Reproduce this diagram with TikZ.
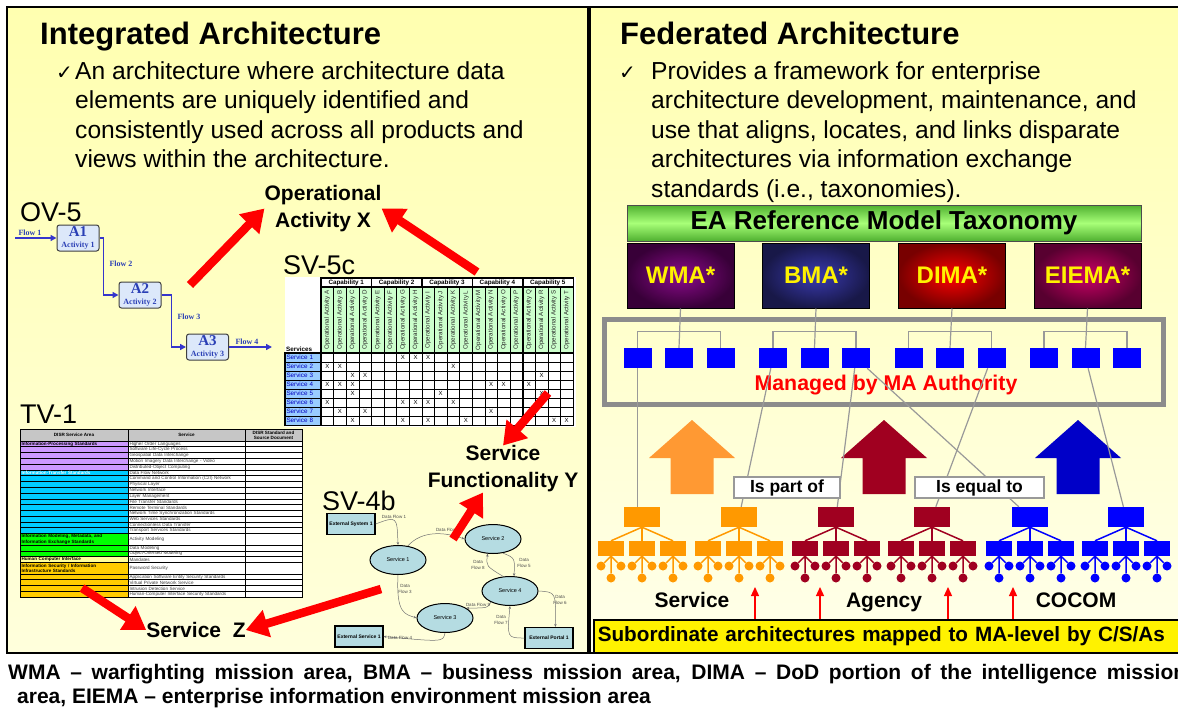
\documentclass[tikz,border=0pt]{standalone}
\usepackage{fontspec}
\setmainfont{Liberation Sans}
\newfontfamily\ovfont{Liberation Serif}
\newfontfamily\symfont{DejaVu Sans}
\usepackage{tikz}
\usetikzlibrary{arrows.meta,shapes,calc}
\usepackage{xcolor}

\definecolor{panelTop}{HTML}{FFFFB0}
\definecolor{panelBot}{HTML}{FFFFDC}
\definecolor{ovBlue}{HTML}{2A3FB5}
\definecolor{ovLine}{HTML}{3535CC}
\definecolor{ovFill}{HTML}{DCE8FA}
\definecolor{actGreen}{HTML}{CCFFCC}
\definecolor{svcBlue}{HTML}{99CCFF}
\definecolor{svTeal}{HTML}{B5DCE2}
\definecolor{tvPurple}{HTML}{CC99FF}
\definecolor{tvCyan}{HTML}{00CCFF}
\definecolor{tvGreen}{HTML}{00FF00}
\definecolor{tvPale}{HTML}{FFFF99}
\definecolor{tvOrange}{HTML}{FFCC00}
\definecolor{taxDark}{HTML}{4FB030}
\definecolor{taxLight}{HTML}{A8FF78}
\definecolor{wmaIn}{HTML}{8C0A8C}
\definecolor{wmaOut}{HTML}{380038}
\definecolor{bmaIn}{HTML}{3A3AB0}
\definecolor{bmaOut}{HTML}{181848}
\definecolor{dimaIn}{HTML}{FF0000}
\definecolor{dimaOut}{HTML}{780000}
\definecolor{eiemaIn}{HTML}{CC0066}
\definecolor{eiemaOut}{HTML}{580030}
\definecolor{maOrange}{HTML}{FF9933}
\definecolor{maCrimson}{HTML}{A00020}
\definecolor{maBlue}{HTML}{0000C8}
\definecolor{trOrange}{HTML}{FF9900}
\definecolor{trBlue}{HTML}{0000FF}
\definecolor{linkGray}{HTML}{999999}

\newcommand{\setfs}[1]{\fontsize{#1}{#1}\selectfont}

\begin{document}
\begin{tikzpicture}[x=1pt, y=-1pt,
    headtxt/.style={anchor=base west, inner sep=0, font=\bfseries\setfs{31}},
    bodytxt/.style={anchor=base west, inner sep=0, font=\setfs{24.6}},
    checktxt/.style={anchor=base west, inner sep=0, font=\symfont\setfs{20}},
    viewtxt/.style={anchor=base west, inner sep=0, font=\setfs{27}},
    bigtxt/.style={inner sep=0, align=center, font=\bfseries\fontsize{21}{27}\selectfont},
    bigred/.style={draw=red, line width=8.5, -{Triangle[length=22pt,width=27pt]}},
    % OV-5
    actbox/.style={draw=black!75, fill=ovFill, rounded corners=2.5, line width=1, minimum width=42, minimum height=26, inner sep=0, align=center, text=ovBlue, font=\ovfont\bfseries},
    flowline/.style={draw=ovLine, line width=1.4, -{Triangle[length=6pt,width=6pt]}},
    flowlab/.style={inner sep=0, text=ovBlue, font=\ovfont\bfseries\setfs{8}},
    % SV-5c
    capcell/.style={draw, line width=0.8, fill=white, minimum height=9, inner sep=0, font=\bfseries\setfs{6.3}},
    actcell/.style={draw, line width=0.5, fill=actGreen, minimum width=12.6, minimum height=66, inner sep=0, text=black!85, font=\setfs{6.2}},
    svclab/.style={draw, line width=0.6, fill=svcBlue, minimum width=36, minimum height=9, inner sep=0, text width=33, align=left, text=blue!75!black, font=\setfs{6.3}},
    gridcell/.style={draw, line width=0.5, fill=white, minimum width=12.6, minimum height=9, inner sep=0},
    xmark/.style={inner sep=0, font=\setfs{6}},
    % TV-1
    tvhead/.style={draw, line width=0.6, fill=gray!45, minimum height=12, inner sep=0, align=center, font=\bfseries\fontsize{4.6}{5}\selectfont},
    tvcell/.style={draw, line width=0.6, inner xsep=1, inner ysep=0, align=left, font=\fontsize{4.6}{5.2}\selectfont},
    % SV-4b
    svell/.style={ellipse, draw, line width=1, fill=svTeal, minimum width=56, minimum height=29, inner sep=0, font=\setfs{5.5}},
    extbox/.style={draw, line width=1.1, fill=svTeal, minimum width=48, minimum height=21, inner sep=0, font=\bfseries\setfs{5}},
    dflow/.style={draw=black!55, line width=0.5, -{Stealth[length=3pt,width=2.5pt]}},
    dflab/.style={inner sep=0, align=center, text=black!70, font=\fontsize{4.5}{5.5}\selectfont},
    % federated side
    taxbar/.style={draw=black!70, line width=1, top color=taxDark, bottom color=taxDark, middle color=taxLight, minimum width=514, minimum height=36, inner sep=0, font=\bfseries\setfs{26}},
    mabox/.style={draw=black, line width=1, minimum width=107, minimum height=65, inner sep=0, text=yellow, font=\bfseries\setfs{24}},
    masq/.style={fill=trBlue, minimum width=28, minimum height=20, inner sep=0},
    graylink/.style={draw=linkGray, line width=1.2},
    relbox/.style={draw=gray!80, line width=1.5, fill=white, minimum height=21, inner sep=0, font=\bfseries\setfs{17.5}},
    trtop/.style={minimum width=36, minimum height=20, inner sep=0},
    trmid/.style={minimum width=26, minimum height=15, inner sep=0},
    trleaf/.style={circle, minimum size=9, inner sep=0},
    grouptxt/.style={anchor=base, inner sep=0, font=\bfseries\setfs{21}},
    smallred/.style={draw=red, line width=1.3, -{Triangle[length=9pt,width=8pt]}},
    subbar/.style={anchor=west, draw=black, line width=1.5, fill=yellow, minimum height=33, text width=620, align=left, inner xsep=4, font=\bfseries\setfs{20.7}}
  ]
  \useasboundingbox (0,0) rectangle (1178,713);
  \fill[white] (0,0) rectangle (1178,713);

  % Panels
  \fill[top color=panelTop, bottom color=panelBot] (7,7) rectangle (588,653);
  \draw[line width=1.5] (7,7) rectangle (588,653);
  \fill[top color=panelTop, bottom color=panelBot!60!white] (590,7) rectangle (1190,653);
  \draw[line width=1.5] (590,7) rectangle (1190,653);

  % Integrated side text
  \node[headtxt] (intTitle) at (40,44) {Integrated Architecture};
  \node[checktxt] (intChk) at (56,79) {✓};
  \foreach \ln [count=\i] in {An architecture where architecture data, elements are uniquely identified and, consistently used across all products and, views within the architecture.}
    \node[bodytxt] (intL\i) at (75,{79+29.5*(\i-1)}) {\ln};

  % Federated side text
  \node[headtxt] (fedTitle) at (620,44) {Federated Architecture};
  \node[checktxt] (fedChk) at (619,79) {✓};
  \foreach \ln [count=\i] in {Provides a framework for enterprise, {architecture development, maintenance, and}, {use that aligns, locates, and links disparate}, architectures via information exchange, {standards (i.e., taxonomies).}}
    \node[bodytxt] (fedL\i) at (651,{79+29.5*(\i-1)}) {\ln};

  % View labels
  \node[viewtxt] (lblOV) at (20,221) {OV-5};
  \node[viewtxt] (lblSV5) at (283,274) {SV-5c};
  \node[viewtxt] (lblTV) at (20,423) {TV-1};
  \node[viewtxt] (lblSV4) at (322,510) {SV-4b};

  % OV-5
  \coordinate (ovIn) at (15,238);
  \coordinate (ovOut) at (272,347);
  \node[actbox] (A1) at (78,238) {{\setfs{15}A1}\\[-1pt]{\setfs{8}Activity 1}};
  \node[actbox] (A2) at (140,295) {{\setfs{15}A2}\\[-1pt]{\setfs{8}Activity 2}};
  \node[actbox] (A3) at (207.5,347) {{\setfs{15}A3}\\[-1pt]{\setfs{8}Activity 3}};
  \draw[flowline] (ovIn) -- (A1.west);
  \draw[flowline] (A1.east) -- ++(4,0) |- (A2.west);
  \draw[flowline] (A2.east) -- ++(10,0) |- (A3.west);
  \draw[flowline] (A3.east) -- (ovOut);
  \node[flowlab] (fl1) at (30,233) {Flow 1};
  \node[flowlab] (fl2) at (121,264) {Flow 2};
  \node[flowlab] (fl3) at (189,317) {Flow 3};
  \node[flowlab] (fl4) at (247,342) {Flow 4};

  % SV-5c matrix
  \fill[white] (285,277) rectangle (576,427);
  \node[anchor=south west, inner sep=0, font=\bfseries\setfs{6.3}] (svcHdr) at (286,352) {Services};
  \foreach \c in {1,...,5}
    \node[capcell, minimum width=50.4] (cap\c) at ({321+50.4*(\c-0.5)},282.5) {Capability \c};
  \foreach \lt [count=\j] in {A,B,C,D,E,F,G,H,I,J,K,L,M,N,O,P,Q,R,S,T}
    \node[actcell] (act\j) at ({321+12.6*(\j-0.5)},320) {\rotatebox{90}{Operational Activity \lt}};
  \foreach \r in {1,...,8}{
    \node[svclab] (srv\r) at (303,{353+9*(\r-0.5)}) {Service \r};
    \foreach \j in {1,...,20}
      \node[gridcell] (g\r-\j) at ({321+12.6*(\j-0.5)},{353+9*(\r-0.5)}) {};
  }
  \foreach \r/\cl in {1/{7,8,9},2/{1,2,11},3/{3,4,18},4/{1,2,3,14,15,17},5/{3,10,18},6/{1,7,8,9,11},7/{2,4,14},8/{3,7,9,12,19,20}}
    \foreach \j in \cl
      \node[xmark] (x\r-\j) at (g\r-\j) {X};
  \draw[line width=1.2] (cap1.north west) rectangle (g8-20.south east);
  \foreach \c in {1,...,4}
    \draw[line width=1.2] (cap\c.north east) -- (cap\c.north east |- g8-1.south);
  \draw[line width=1.2] (act1.north west) -- (act20.north east);
  \draw[line width=1.2] (g1-1.north west) -- (g1-20.north east);
  \draw[line width=1] (srv1.north west) rectangle (srv8.south east);

  % TV-1 table
  \node[tvhead, minimum width=108] (tvh1) at (74,435) {DISR Service Area};
  \node[tvhead, minimum width=117] (tvh2) at (186.5,435) {Service};
  \node[tvhead, minimum width=57] (tvh3) at (273.5,435) {DISR Standard and\\Source Document};
  \foreach \t/\h/\fc/\ar/\sv [count=\i] in {
      0/1/tvPurple/{Information-Processing Standards}/{Higher Order Languages},
      1/1/tvPurple/{}/{Software Life-Cycle Process},
      2/1/tvPurple/{}/{Geospatial Data Interchange},
      3/1/tvPurple/{}/{Motion Imagery Data Interchange - Video},
      4/1/tvPurple/{}/{Distributed-Object Computing},
      5/1/tvCyan/{\textcolor{white}{Information-Transfer Standards}}/{Data Flow Network},
      6/1/tvCyan/{}/{Command and Control Information (C2I) Network},
      7/1/tvCyan/{}/{Physical Layer},
      8/1/tvCyan/{}/{Network Interface},
      9/1/tvCyan/{}/{Layer Management},
      10/1/tvCyan/{}/{File Transfer Standards},
      11/1/tvCyan/{}/{Remote Terminal Standards},
      12/1/tvCyan/{}/{Network Time Synchronization Standards},
      13/1/tvCyan/{}/{Web Services Standards},
      14/1/tvCyan/{}/{Connectionless Data Transfer},
      15/1/tvCyan/{}/{Transport Services Standards},
      16/2/tvGreen/{Information Modeling, Metadata, and\\Information Exchange Standards}/{Activity Modeling},
      18/1/tvGreen/{}/{Data Modeling},
      19/1/tvGreen/{}/{Object-Oriented Modeling},
      20/1/tvPale/{Human Computer Interface}/{Mandates},
      21/2/tvOrange/{Information Security / Information\\Infrastructure Standards}/{Password Security},
      23/1/tvOrange/{}/{Application Software Entity Security Standards},
      24/1/tvOrange/{}/{Virtual Private Network Service},
      25/1/tvOrange/{}/{Intrusion Detection Service},
      26/1/tvOrange/{}/{Human-Computer Interface Security Standards}}{
    \node[tvcell, fill=\fc, minimum width=108, minimum height=5.78*\h, text width=105, font=\bfseries\fontsize{4.6}{5.2}\selectfont] (tva\i) at (74,{441+5.78*(\t+\h/2)}) {\ar};
    \node[tvcell, fill=white, minimum width=117, minimum height=5.78*\h, text width=114, text=black!75] (tvs\i) at (186.5,{441+5.78*(\t+\h/2)}) {\sv};
    \node[tvcell, fill=white, minimum width=57, minimum height=5.78*\h] (tvd\i) at (273.5,{441+5.78*(\t+\h/2)}) {};
  }

  % SV-4b
  \node[extbox] (es1) at (351,524) {External System 1};
  \node[svell] (s1) at (398,560) {Service 1};
  \node[svell] (s2) at (493,539) {Service 2};
  \node[svell] (s4) at (510,591) {Service 4};
  \node[svell] (s3) at (445,618) {Service 3};
  \node[extbox] (exs1) at (359,636.5) {External Service 1};
  \node[extbox] (ep1) at (549,638) {External Portal 1};
  \draw[dflow] (es1.east) .. controls (397,516) .. (s1.north);
  \draw[dflow] (s1.55) .. controls (422,530) and (445,532) .. (s2.west);
  \draw[dflow] (s1.south) .. controls (396,614) and (405,614) .. (s3.west);
  \draw[dflow] (s2.-55) .. controls (515,558) .. (s4.75);
  \draw[dflow] (s4.115) .. controls (486,566) .. (s2.250);
  \draw[dflow] (s4.210) .. controls (488,608) .. (s3.25);
  \draw[dflow] (s4.east) .. controls (556,592) .. (ep1.60);
  \draw[dflow] (ep1.west) .. controls (507,638) .. (s4.south);
  \draw[dflow] (s3.south) .. controls (443,642) .. (exs1.east);
  \node[dflab] (dl1) at (394,517) {Data Flow 1};
  \node[dflab] (dl2) at (448,530) {Data Flow 2};
  \node[dflab] (dl3) at (405,589) {Data\\Flow 3};
  \node[dflab] (dl5) at (524,563) {Data\\Flow 5};
  \node[dflab] (dl8) at (478,565) {Data\\Flow 8};
  \node[dflab] (dl9) at (478,605) {Data Flow 9};
  \node[dflab] (dl6) at (560,600) {Data\\Flow 6};
  \node[dflab] (dl7) at (501,620) {Data\\Flow 7};
  \node[dflab] (dl4) at (400,638) {Data Flow 4};

  % Targets and red arrows
  \node[bigtxt] (opX) at (323,208.5) {Operational\\Activity X};
  \node[bigtxt] (svcY) at (503,469) {Service\\Functionality Y};
  \node[bigtxt] (svcZ) at (196,630) {Service~~Z};
  \coordinate (ovTail) at (190,285);
  \coordinate (sv5Tail) at (477,272);
  \coordinate (sv5Tail2) at (548,393);
  \coordinate (sv4Tail) at (453,539);
  \coordinate (tvTail) at (82,588);
  \coordinate (sv4Tail2) at (381,589);
  \draw[bigred] (ovTail) -- (opX.west);
  \draw[bigred] (sv5Tail) -- (opX.east);
  \draw[bigred] (sv5Tail2) -- (svcY.north);
  \draw[bigred] (sv4Tail) -- ([xshift=-20pt]svcY.south);
  \draw[bigred] (tvTail) -- (svcZ.west);
  \draw[bigred] (sv4Tail2) -- (svcZ.east);

  % EA reference model
  \node[taxbar] (tax) at (884,223) {EA Reference Model Taxonomy};
  \node[mabox, inner color=wmaIn, outer color=wmaOut] (wma) at (680.5,275.5) {WMA*};
  \node[mabox, inner color=bmaIn, outer color=bmaOut] (bma) at (816,275.5) {BMA*};
  \node[mabox, inner color=dimaIn, outer color=dimaOut] (dima) at (952,275.5) {DIMA*};
  \node[mabox, inner color=eiemaIn, outer color=eiemaOut] (eiema) at (1087.5,275.5) {EIEMA*};
  \node[draw=gray!90, line width=5, minimum width=559, minimum height=85, inner sep=0] (maArea) at (883.5,361.5) {};
  \node[inner sep=0, text=red, font=\bfseries\setfs{21.3}] (maAuth) at (886,385) {Managed by MA Authority};
  \foreach \g in {1,...,4}
    \foreach \k in {1,2,3}
      \node[masq] (sq\g\k) at ({679+135.5*(\g-1)+41.5*(\k-2)},358) {};
  \foreach \g/\nm in {1/wma,2/bma,3/dima,4/eiema}{
    \draw[graylink] (\nm.south) -- (sq\g2.north);
    \draw[graylink] (sq\g1.north) -- ++(0,-16) -| (sq\g3.north);
  }

  % Big up arrows
  \foreach \cx/\col in {692/maOrange, 884/maCrimson, 1078/maBlue}
    \fill[\col] (\cx,420) -- ++(43,38) -- ++(-21.5,0) -- ++(0,36) -- ++(-43,0) -- ++(0,-36) -- ++(-21.5,0) -- cycle;

  % Subordinate trees
  \foreach \cx/\col [count=\t] in {642/trOrange, 739/trOrange, 836/maCrimson, 932/maCrimson, 1030/trBlue, 1126/trBlue}{
    \node[trtop, fill=\col] (tr\t) at (\cx,517) {};
    \foreach \d [count=\m] in {-31,0,31}{
      \node[trmid, fill=\col] (tr\t-\m) at ({\cx+(\d)},548.5) {};
      \node[trleaf, fill=\col] (tr\t-\m-a) at ({\cx+(\d)-10},566) {};
      \node[trleaf, fill=\col] (tr\t-\m-b) at ({\cx+(\d)},578) {};
      \node[trleaf, fill=\col] (tr\t-\m-c) at ({\cx+(\d)+10},566) {};
      \draw[\col, line width=1.5] (tr\t.south) -- (tr\t-\m.north);
      \draw[\col, line width=1.5] (tr\t-\m.south) -- (tr\t-\m-a) (tr\t-\m.south) -- (tr\t-\m-b) (tr\t-\m.south) -- (tr\t-\m-c);
    }
  }

  % Links from MA level to subordinate architectures
  \draw[graylink] (sq11.south) -- (sq11.south |- tr1.north);
  \draw[graylink] (sq21) -- (tr2);
  \draw[graylink] (sq23) -- (tr3);
  \draw[graylink] (sq23) -- (tr5);
  \draw[graylink] (sq33) -- (tr4);
  \draw[graylink] (sq42) -- (tr6);
  \node[relbox, minimum width=106] (partOf) at (787,487.5) {Is part of};
  \node[relbox, minimum width=129] (equalTo) at (979.5,487.5) {Is equal to};

  \node[grouptxt] (lblService) at (692,607) {Service};
  \node[grouptxt] (lblAgency) at (884,607) {Agency};
  \node[grouptxt] (lblCocom) at (1076,607) {COCOM};

  \node[subbar] (subbar) at (593,636.5) {Subordinate architectures mapped to MA-level by C/S/As};
  \foreach \rx [count=\q] in {755,820,948,1013}{
    \coordinate (ra\q) at (\rx,587);
    \draw[smallred] (subbar.north -| ra\q) -- (ra\q);
  }

  % Caption
  \node[anchor=base west, inner sep=0, font=\bfseries\setfs{21}] (capA) at (8,679) {\hbox to 1178pt{WMA – warfighting mission area, BMA – business mission area, DIMA – DoD portion of the intelligence mission}};
  \node[anchor=base west, inner sep=0, font=\bfseries\setfs{21}] (capB) at (17,703) {area, EIEMA – enterprise information environment mission area};
\end{tikzpicture}
\end{document}
